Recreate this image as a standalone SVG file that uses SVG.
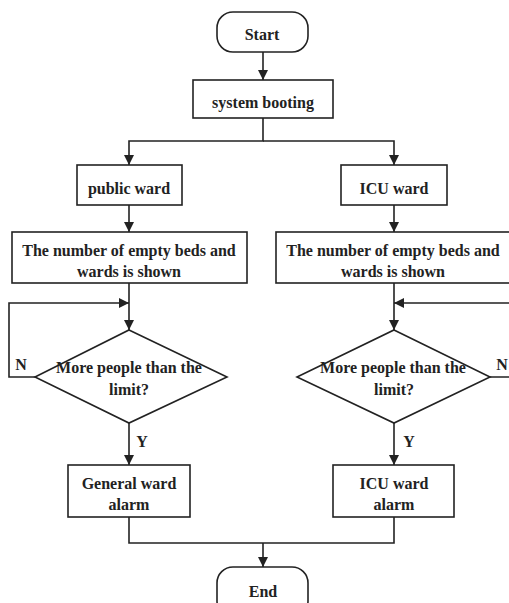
<svg xmlns="http://www.w3.org/2000/svg" width="509" height="603" viewBox="0 0 509 603">
<defs>
<marker id="ah" markerWidth="10" markerHeight="12" refX="10" refY="5" orient="auto" markerUnits="userSpaceOnUse">
<path d="M0,0 L10,5 L0,10 Z" fill="#222"/>
</marker>
<style>
.s{fill:#fff;stroke:#222;stroke-width:1.6}
.c{fill:none;stroke:#222;stroke-width:1.6}
.t{font-family:"Liberation Serif","Times New Roman",serif;font-weight:bold;font-size:16px;fill:#222;text-anchor:middle}
</style>
</defs>
<rect width="509" height="603" fill="#fff"/>
<g id="connectors">
<path class="c" d="M263,52 V80" marker-end="url(#ah)"/>
<path class="c" d="M263,118 V141 H129 V165" marker-end="url(#ah)"/>
<path class="c" d="M263,141 H394 V165" marker-end="url(#ah)"/>
<path class="c" d="M129,205 V232" marker-end="url(#ah)"/>
<path class="c" d="M394,205 V232" marker-end="url(#ah)"/>
<path class="c" d="M129,283 V330" marker-end="url(#ah)"/>
<path class="c" d="M394,283 V330" marker-end="url(#ah)"/>
<path class="c" d="M35,377 H9 V303 H129" marker-end="url(#ah)"/>
<path class="c" d="M490,377 H512 V303 H394" marker-end="url(#ah)"/>
<path class="c" d="M129,423 V465" marker-end="url(#ah)"/>
<path class="c" d="M394,423 V465" marker-end="url(#ah)"/>
<path class="c" d="M129,517 V543 H394 V517"/>
<path class="c" d="M263,543 V567" marker-end="url(#ah)"/>
<text class="t" x="21" y="370">N</text>
<text class="t" x="502" y="370">N</text>
<text class="t" x="142" y="447">Y</text>
<text class="t" x="409" y="447">Y</text>
</g>
<g id="start">
<rect class="s" x="217" y="12" width="91" height="40" rx="16"/>
<text class="t" x="262" y="40">Start</text>
</g>
<g id="boot">
<rect class="s" x="193" y="80" width="140" height="38"/>
<text class="t" x="263" y="108">system booting</text>
</g>
<g id="public">
<rect class="s" x="77" y="165" width="105" height="40"/>
<text class="t" x="129" y="194">public ward</text>
</g>
<g id="icu">
<rect class="s" x="341" y="165" width="106" height="40"/>
<text class="t" x="394" y="194">ICU ward</text>
</g>
<g id="showL">
<rect class="s" x="12" y="232" width="235" height="51"/>
<text class="t" x="129" y="256">The number of empty beds and</text>
<text class="t" x="129" y="277">wards is shown</text>
</g>
<g id="showR">
<rect class="s" x="276" y="232" width="240" height="51"/>
<text class="t" x="393" y="256">The number of empty beds and</text>
<text class="t" x="393" y="277">wards is shown</text>
</g>
<g id="decL">
<polygon class="s" points="129,330 227,377 129,423 35,377"/>
<text class="t" x="129" y="373">More people than the</text>
<text class="t" x="129" y="395">limit?</text>
</g>
<g id="decR">
<polygon class="s" points="394,330 490,377 394,423 297,377"/>
<text class="t" x="393" y="373">More people than the</text>
<text class="t" x="394" y="395">limit?</text>
</g>
<g id="alarmL">
<rect class="s" x="68" y="465" width="122" height="52"/>
<text class="t" x="129" y="489">General ward</text>
<text class="t" x="129" y="510">alarm</text>
</g>
<g id="alarmR">
<rect class="s" x="333" y="465" width="121" height="52"/>
<text class="t" x="394" y="489">ICU ward</text>
<text class="t" x="394" y="510">alarm</text>
</g>
<g id="end">
<rect class="s" x="217" y="567" width="91" height="50" rx="16"/>
<text class="t" x="263" y="597">End</text>
</g>
</svg>
